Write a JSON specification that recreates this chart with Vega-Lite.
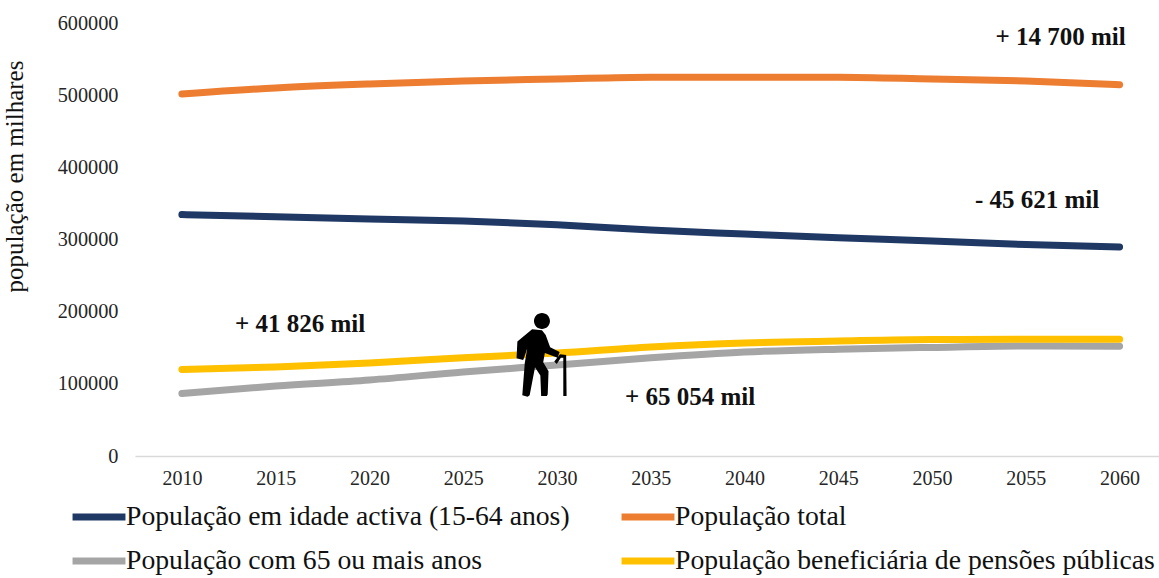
{"$schema":"https://vega.github.io/schema/vega-lite/v6.json","width":1024,"height":433,"autosize":"none","padding":{"left":135,"top":23,"right":0,"bottom":122},"background":"white","config":{"view":{"stroke":null},"font":"Liberation Serif"},"layer":[{"data":{"values":[{"s":"População total","y":2010,"v":501600},{"s":"População total","y":2015,"v":510000},{"s":"População total","y":2020,"v":515500},{"s":"População total","y":2025,"v":519600},{"s":"População total","y":2030,"v":522400},{"s":"População total","y":2035,"v":525000},{"s":"População total","y":2040,"v":525000},{"s":"População total","y":2045,"v":525000},{"s":"População total","y":2050,"v":522400},{"s":"População total","y":2055,"v":519600},{"s":"População total","y":2060,"v":514500},{"s":"População em idade activa (15-64 anos)","y":2010,"v":334500},{"s":"População em idade activa (15-64 anos)","y":2015,"v":331500},{"s":"População em idade activa (15-64 anos)","y":2020,"v":328400},{"s":"População em idade activa (15-64 anos)","y":2025,"v":325600},{"s":"População em idade activa (15-64 anos)","y":2030,"v":320500},{"s":"População em idade activa (15-64 anos)","y":2035,"v":313000},{"s":"População em idade activa (15-64 anos)","y":2040,"v":307600},{"s":"População em idade activa (15-64 anos)","y":2045,"v":302500},{"s":"População em idade activa (15-64 anos)","y":2050,"v":298000},{"s":"População em idade activa (15-64 anos)","y":2055,"v":293000},{"s":"População em idade activa (15-64 anos)","y":2060,"v":289600},{"s":"População com 65 ou mais anos","y":2010,"v":86500},{"s":"População com 65 ou mais anos","y":2015,"v":97000},{"s":"População com 65 ou mais anos","y":2020,"v":105300},{"s":"População com 65 ou mais anos","y":2025,"v":116400},{"s":"População com 65 ou mais anos","y":2030,"v":126000},{"s":"População com 65 ou mais anos","y":2035,"v":136000},{"s":"População com 65 ou mais anos","y":2040,"v":144000},{"s":"População com 65 ou mais anos","y":2045,"v":148000},{"s":"População com 65 ou mais anos","y":2050,"v":150500},{"s":"População com 65 ou mais anos","y":2055,"v":152400},{"s":"População com 65 ou mais anos","y":2060,"v":152000},{"s":"População beneficiária de pensões públicas","y":2010,"v":120000},{"s":"População beneficiária de pensões públicas","y":2015,"v":123300},{"s":"População beneficiária de pensões públicas","y":2020,"v":129000},{"s":"População beneficiária de pensões públicas","y":2025,"v":136000},{"s":"População beneficiária de pensões públicas","y":2030,"v":142700},{"s":"População beneficiária de pensões públicas","y":2035,"v":151000},{"s":"População beneficiária de pensões públicas","y":2040,"v":156600},{"s":"População beneficiária de pensões públicas","y":2045,"v":159300},{"s":"População beneficiária de pensões públicas","y":2050,"v":161400},{"s":"População beneficiária de pensões públicas","y":2055,"v":161800},{"s":"População beneficiária de pensões públicas","y":2060,"v":161800}]},"mark":{"type":"line","interpolate":"monotone","strokeWidth":7,"strokeCap":"round"},"encoding":{"x":{"field":"y","type":"quantitative","scale":{"domain":[2007.5,2062.1],"nice":false,"zero":false},"axis":{"values":[2010,2015,2020,2025,2030,2035,2040,2045,2050,2055,2060],"format":"d","title":null,"grid":false,"ticks":false,"domainColor":"#d9d9d9","domainWidth":1.5,"labelFont":"Liberation Serif","labelFontSize":20,"labelColor":"#262626","labelPadding":12,"labelOverlap":false}},"y":{"field":"v","type":"quantitative","scale":{"domain":[0,600000],"nice":false},"axis":{"values":[0,100000,200000,300000,400000,500000,600000],"format":"d","title":"população em milhares","titleFont":"Liberation Serif","titleFontSize":25,"titleFontWeight":"normal","titleColor":"#111111","titleX":-108,"titleY":153,"grid":false,"ticks":false,"domain":false,"labelFont":"Liberation Serif","labelFontSize":20.3,"labelColor":"#262626","labelPadding":17}},"color":{"field":"s","type":"nominal","sort":null,"scale":{"domain":["População em idade activa (15-64 anos)","População com 65 ou mais anos","População total","População beneficiária de pensões públicas"],"range":["#1f3864","#a5a5a5","#ed7d31","#ffc000"]},"legend":{"title":null,"orient":"none","legendX":-66,"legendY":464,"columns":2,"columnPadding":37,"rowPadding":-1,"symbolType":"stroke","symbolSize":2800,"symbolStrokeWidth":7,"labelFont":"Liberation Serif","labelFontSize":27.7,"labelColor":"#111111","labelLimit":600,"labelOffset":-3}}}},{"data":{"values":[{"t":"+ 14 700 mil","y":2056.85,"v":580600},{"t":"- 45 621 mil","y":2055.6,"v":354700},{"t":"+ 41 826 mil","y":2016.3,"v":182900},{"t":"+ 65 054 mil","y":2037.1,"v":81750}]},"mark":{"type":"text","font":"Liberation Serif","fontWeight":"bold","fontSize":25,"color":"#111111"},"encoding":{"x":{"field":"y","type":"quantitative"},"y":{"field":"v","type":"quantitative"},"text":{"field":"t"}}},{"data":{"values":[{"y":2029.2,"v":140000}]},"mark":{"type":"point","filled":true,"opacity":1,"color":"#000000","size":6724,"shape":"M-0.195,-0.83 A0.195,0.195 0 1 1 0.195,-0.83 A0.195,0.195 0 1 1 -0.195,-0.83 Z M-0.24,-0.63 L0,-0.6 L0.09,-0.49 L0.2,-0.19 L0.43,-0.07 L0.38,0.07 L0.07,-0.05 L0.03,0.18 L0.16,0.4 L0.14,0.96 L0.12,1 L-0.02,1 L-0.04,0.5 L-0.17,0.3 L-0.3,0.98 L-0.35,1.02 L-0.48,0.98 L-0.42,0.2 L-0.36,-0.16 L-0.44,0.08 L-0.46,0.12 L-0.62,0.08 L-0.6,-0.33 Z M0.3,0.16 L0.44,-0.02 L0.59,0 L0.6,1 L0.52,1 L0.52,0.07 L0.46,0.07 L0.36,0.22 Z"},"encoding":{"x":{"field":"y","type":"quantitative"},"y":{"field":"v","type":"quantitative"}}}]}
